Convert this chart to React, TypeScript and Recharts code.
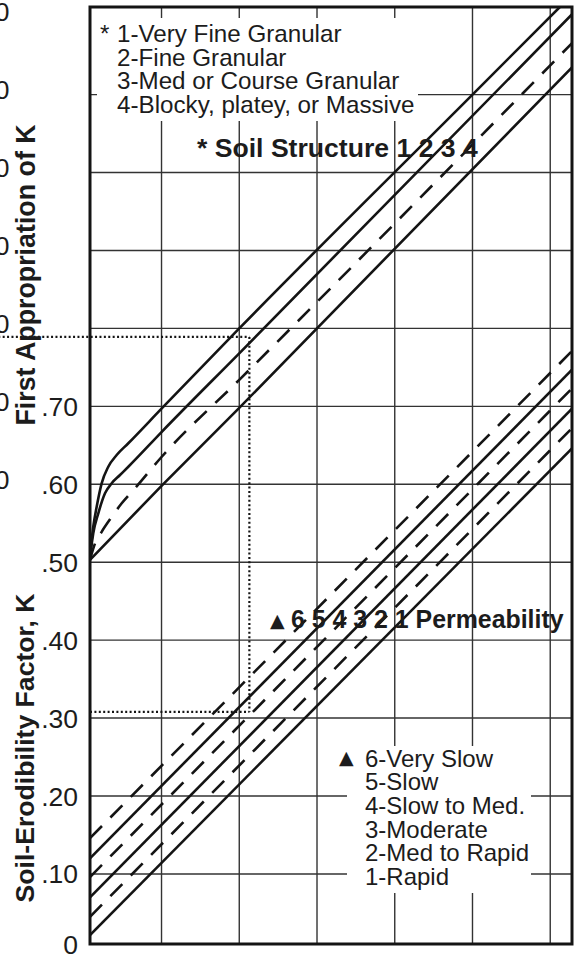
import React from 'react';
import {
  ComposedChart,
  Line,
  XAxis,
  YAxis,
  CartesianGrid,
  ReferenceLine,
  ReferenceArea,
} from 'recharts';

// ---------- axis ranges (x is an unlabeled K-like scale, y is K) ----------
const V_MIN = 0.508;
const V_MAX = 1.128;
const K_MIN = 0.0101;
const K_MAX = 1.2124;

const vGridValues = [0.6, 0.7, 0.8, 0.9, 1.0, 1.1];
const kGridValues = [0.1, 0.2, 0.3, 0.4, 0.5, 0.6, 0.7, 0.8, 0.9, 1.0, 1.1];

const kTickValues = [K_MIN, 0.1, 0.2, 0.3, 0.4, 0.5, 0.6, 0.7];
const kTickLabels = ['0', '.10', '.20', '.30', '.40', '.50', '.60', '.70'];
// labels of the neighbouring (cropped) scale, only their last "0" is visible
const ghostTickValues = [0.6, 0.7, 0.8, 0.9, 1.0, 1.1, 1.2];
const ghostTickLabel = '0';

const allYTicks = Array.from(new Set([...kTickValues, ...ghostTickValues])).sort((a, b) => a - b);

// ---------- soil structure curves ----------
const structure1 = [
  { v: 0.508, k: 0.503 },
  { v: 0.5093, k: 0.52 },
  { v: 0.5122, k: 0.5456 },
  { v: 0.5166, k: 0.5712 },
  { v: 0.523, k: 0.6012 },
  { v: 0.5315, k: 0.6225 },
  { v: 0.5423, k: 0.6375 },
  { v: 0.5573, k: 0.6526 },
  { v: 0.6, k: 0.697 },
  { v: 0.7, k: 0.8 },
  { v: 1.0, k: 1.1 },
  { v: 1.1124, k: 1.2124 },
];
const structure2 = [
  { v: 0.508, k: 0.503 },
  { v: 0.5093, k: 0.516 },
  { v: 0.5122, k: 0.537 },
  { v: 0.5187, k: 0.5627 },
  { v: 0.5273, k: 0.5884 },
  { v: 0.5359, k: 0.6013 },
  { v: 0.5466, k: 0.6119 },
  { v: 0.5573, k: 0.6225 },
  { v: 0.6, k: 0.667 },
  { v: 0.7, k: 0.768 },
  { v: 1.128, k: 1.203 },
];
const structure3 = [
  { v: 0.508, k: 0.503 },
  { v: 0.5144, k: 0.524 },
  { v: 0.523, k: 0.539 },
  { v: 0.5359, k: 0.558 },
  { v: 0.5488, k: 0.5756 },
  { v: 0.5659, k: 0.5948 },
  { v: 0.6, k: 0.635 },
  { v: 0.7, k: 0.734 },
  { v: 1.128, k: 1.166 },
];
const structure4 = [
  { v: 0.508, k: 0.503 },
  { v: 0.6, k: 0.598 },
  { v: 0.7, k: 0.698 },
  { v: 1.128, k: 1.135 },
];

// ---------- permeability lines ----------
const perm6 = [{ v: V_MIN, k: 0.146 }, { v: V_MAX, k: 0.771 }];
const perm5 = [{ v: V_MIN, k: 0.12 }, { v: V_MAX, k: 0.747 }];
const perm4 = [{ v: V_MIN, k: 0.096 }, { v: V_MAX, k: 0.723 }];
const perm3 = [{ v: V_MIN, k: 0.07 }, { v: V_MAX, k: 0.697 }];
const perm2 = [{ v: V_MIN, k: 0.045 }, { v: V_MAX, k: 0.672 }];
const perm1 = [{ v: V_MIN, k: 0.0215 }, { v: V_MAX, k: 0.646 }];

// ---------- worked example (dotted guide) ----------
const exampleFirstK = 0.789;
const exampleFinalK = 0.308;
const exampleV = 0.713;
const pageLeftV = 0.39;

// ---------- texts ----------
const structureLegend = [
  '1-Very Fine Granular',
  '2-Fine Granular',
  '3-Med or Course Granular',
  '4-Blocky, platey, or Massive',
];
const permeabilityLegend = [
  '6-Very Slow',
  '5-Slow',
  '4-Slow to Med.',
  '3-Moderate',
  '2-Med to Rapid',
  '1-Rapid',
];

const FONT = 'Liberation Sans, Arial, Helvetica, sans-serif';
const INK = '#141414';
const TXT = '#1c1c1c';
const LW = 2.6;

function KTick(props: any) {
  const { x, y, payload } = props;
  const val = payload.value;
  const idx = kTickValues.findIndex((t) => Math.abs(t - val) < 1e-6);
  const ghost = ghostTickValues.some((t) => Math.abs(t - val) < 1e-6);
  return (
    <g>
      {idx >= 0 && (
        <text x={x} y={y} dy="0.36em" textAnchor="end" fontSize={26.5} fill={TXT} fontFamily={FONT}>
          {kTickLabels[idx]}
        </text>
      )}
      {ghost && (
        <text x={9.5} y={y - 5} dy="0.36em" textAnchor="end" fontSize={26.5} fill={TXT} fontFamily={FONT}>
          {ghostTickLabel}
        </text>
      )}
    </g>
  );
}

export default function App() {
  const solid = { stroke: INK, strokeWidth: LW, dot: false, activeDot: false, isAnimationActive: false, type: 'linear' as const };
  const dashed = { ...solid, strokeDasharray: '17 12' };
  const dotted = { stroke: INK, strokeWidth: 2.2, strokeDasharray: '2 2.4', ifOverflow: 'visible' as const };
  return (
    <div style={{ position: 'absolute', left: 0, top: 0, width: 580, height: 962, background: '#fff' }}>
      <ComposedChart width={580} height={962} margin={{ top: 7, right: 8, bottom: 18, left: 0 }}>
        <CartesianGrid
          stroke="#333"
          strokeWidth={1.4}
          horizontalValues={kGridValues}
          verticalValues={vGridValues}
        />
        <XAxis type="number" dataKey="v" domain={[V_MIN, V_MAX]} allowDataOverflow hide />
        <YAxis
          type="number"
          dataKey="k"
          domain={[K_MIN, K_MAX]}
          allowDataOverflow
          ticks={allYTicks}
          interval={0}
          width={90}
          axisLine={false}
          tickLine={false}
          tickSize={0}
          tickMargin={12}
          tick={<KTick />}
        />
        <Line data={structure1} dataKey="k" {...solid} type="monotone" />
        <Line data={structure2} dataKey="k" {...solid} type="monotone" />
        <Line data={structure3} dataKey="k" {...dashed} type="monotone" />
        <Line data={structure4} dataKey="k" {...solid} />
        <Line data={perm6} dataKey="k" {...dashed} />
        <Line data={perm5} dataKey="k" {...solid} />
        <Line data={perm4} dataKey="k" {...dashed} />
        <Line data={perm3} dataKey="k" {...solid} />
        <Line data={perm2} dataKey="k" {...dashed} />
        <Line data={perm1} dataKey="k" {...solid} />
        <ReferenceLine segment={[{ x: pageLeftV, y: exampleFirstK }, { x: exampleV, y: exampleFirstK }]} {...dotted} />
        <ReferenceLine segment={[{ x: exampleV, y: exampleFirstK }, { x: exampleV, y: exampleFinalK }]} {...dotted} />
        <ReferenceLine segment={[{ x: V_MIN, y: exampleFinalK }, { x: exampleV, y: exampleFinalK }]} {...dotted} />
        <ReferenceArea
          x1={V_MIN}
          x2={V_MAX}
          y1={K_MIN}
          y2={K_MAX}
          fill="none"
          fillOpacity={0}
          stroke={INK}
          strokeWidth={3}
          ifOverflow="visible"
        />
      </ComposedChart>
      <svg
        width={580}
        height={962}
        style={{ position: 'absolute', left: 0, top: 0, pointerEvents: 'none' }}
        fontFamily={FONT}
      >
        {/* axis titles */}
        <text
          x={35}
          y={275}
          transform="rotate(-90 35 275)"
          textAnchor="middle"
          fontSize={26.8}
          fontWeight="bold"
          fill={TXT}
        >
          First Appropriation of K
        </text>
        <text
          x={34}
          y={748}
          transform="rotate(-90 34 748)"
          textAnchor="middle"
          fontSize={26.6}
          fontWeight="bold"
          fill={TXT}
        >
          Soil-Erodibility Factor, K
        </text>

        {/* soil structure legend */}
        <rect x={97} y={18} width={321} height={103} fill="#fff" />
        <text x={100} y={42} fontSize={24.2} fill={TXT}>
          <tspan>*</tspan>
          {structureLegend.map((t, i) => (
            <tspan key={t} x={117} y={42 + i * 23.5}>
              {t}
            </tspan>
          ))}
        </text>
        <text x={197} y={157} fontSize={26.6} fontWeight="bold" fill={TXT}>
          * Soil Structure 1 2 3 4
        </text>

        {/* permeability label */}
        <text x={291} y={628} fontSize={24.9} fontWeight="bold" fill={TXT}>
          <tspan x={270} y={627} fontSize={19} fontWeight="normal" fontFamily="DejaVu Sans">▲</tspan>
          <tspan x={291} y={628}>6 5 4 3 2 1 Permeability</tspan>
        </text>

        {/* permeability legend */}
        <rect x={347} y={746} width={184} height={147} fill="#fff" />
        <text x={339} y={764} fontSize={24} fill={TXT}>
          <tspan x={339} y={764} fontSize={19} fontFamily="DejaVu Sans">▲</tspan>
          {permeabilityLegend.map((t, i) => (
            <tspan key={t} x={365} y={766.7 + i * 23.66}>
              {t}
            </tspan>
          ))}
        </text>
      </svg>
    </div>
  );
}
